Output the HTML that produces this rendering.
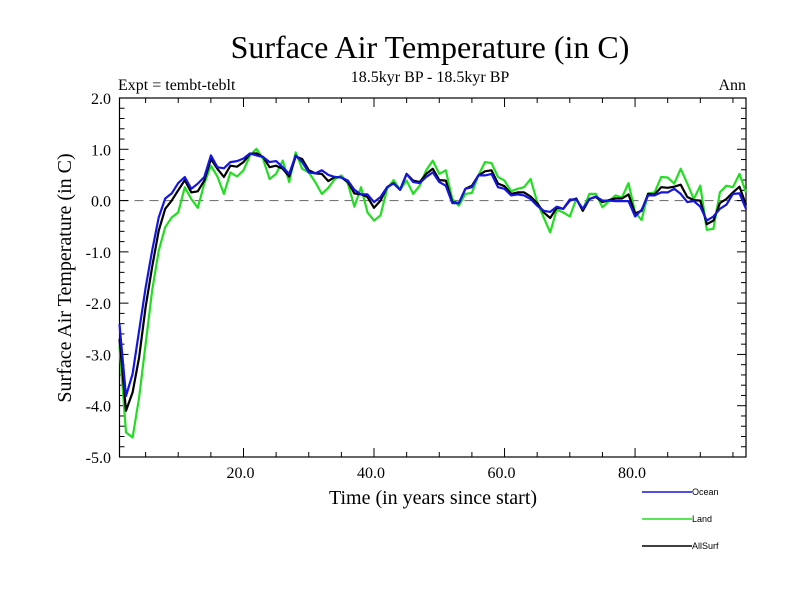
<!DOCTYPE html>
<html><head><meta charset="utf-8"><style>
body{margin:0;background:#fff}
svg{display:block}
.s{font-family:"Liberation Serif",serif;fill:#000}
.l{font-family:"Liberation Sans",sans-serif;font-size:9px;fill:#000}
</style></head><body>
<svg id="c" width="800" height="600" xmlns="http://www.w3.org/2000/svg">
<rect width="800" height="600" fill="#fff"/>
<text class="s" x="430" y="58" font-size="32" text-anchor="middle">Surface Air Temperature (in C)</text>
<text class="s" x="430" y="82" font-size="16" text-anchor="middle">18.5kyr BP - 18.5kyr BP</text>
<text class="s" x="118" y="90" font-size="16">Expt = tembt-teblt</text>
<text class="s" x="746" y="90" font-size="16" text-anchor="end">Ann</text>
<text class="s" x="433" y="504" font-size="20" text-anchor="middle">Time (in years since start)</text>
<text class="s" x="0" y="0" font-size="20" text-anchor="middle" transform="translate(71,278) rotate(-90)">Surface Air Temperature (in C)</text>
<g id="axes"></g>
<g id="marks"></g>
<g id="legend"></g>
</svg>
<script>
const years=[];for(let i=1;i<=97;i++)years.push(i);
const ocean=[-2.41,-3.81,-3.38,-2.54,-1.70,-0.98,-0.33,0.04,0.14,0.34,0.46,0.23,0.33,0.46,0.88,0.65,0.63,0.75,0.77,0.82,0.92,0.88,0.85,0.75,0.77,0.65,0.52,0.88,0.75,0.55,0.53,0.59,0.50,0.46,0.45,0.39,0.21,0.12,0.12,-0.03,0.07,0.26,0.33,0.21,0.52,0.36,0.34,0.46,0.55,0.36,0.29,-0.05,-0.05,0.23,0.26,0.49,0.49,0.52,0.26,0.23,0.10,0.12,0.10,0.03,-0.10,-0.20,-0.22,-0.12,-0.16,0.02,0.02,-0.16,0.03,0.08,0.00,0.00,-0.01,-0.01,-0.01,-0.31,-0.18,0.10,0.10,0.16,0.16,0.23,0.13,-0.03,-0.01,-0.12,-0.39,-0.31,-0.16,-0.08,0.13,0.14,-0.16];
const land=[-2.83,-4.52,-4.62,-3.84,-2.80,-1.76,-0.98,-0.52,-0.33,-0.23,0.26,0.03,-0.14,0.33,0.68,0.47,0.13,0.55,0.47,0.59,0.88,1.01,0.81,0.42,0.52,0.78,0.36,0.94,0.62,0.55,0.36,0.13,0.25,0.42,0.49,0.33,-0.12,0.26,-0.23,-0.39,-0.29,0.23,0.40,0.21,0.39,0.13,0.29,0.59,0.78,0.52,0.59,0.03,-0.10,0.13,0.15,0.49,0.75,0.73,0.46,0.39,0.18,0.23,0.26,0.42,-0.03,-0.33,-0.62,-0.18,-0.23,-0.31,0.03,-0.18,0.13,0.13,-0.13,-0.01,0.10,0.06,0.34,-0.23,-0.38,0.14,0.16,0.46,0.45,0.33,0.62,0.33,0.03,0.29,-0.57,-0.55,0.16,0.29,0.26,0.52,0.16];
const allsurf=[-2.70,-4.10,-3.74,-3.06,-2.08,-1.30,-0.59,-0.16,0.00,0.20,0.40,0.16,0.18,0.39,0.81,0.62,0.46,0.68,0.66,0.75,0.91,0.92,0.85,0.65,0.68,0.62,0.47,0.86,0.81,0.59,0.53,0.52,0.38,0.46,0.45,0.36,0.14,0.12,0.07,-0.14,0.00,0.26,0.34,0.21,0.52,0.39,0.36,0.52,0.62,0.40,0.39,-0.03,-0.05,0.23,0.29,0.49,0.57,0.59,0.33,0.28,0.13,0.16,0.16,0.08,-0.05,-0.23,-0.34,-0.14,-0.16,0.00,0.04,-0.20,0.03,0.07,-0.03,0.01,0.04,0.04,0.12,-0.25,-0.20,0.13,0.12,0.26,0.25,0.27,0.31,0.07,0.01,0.00,-0.46,-0.39,-0.05,0.03,0.16,0.27,-0.08];
const yTicks=[-5,-4,-3,-2,-1,0,1,2];
const yTickLabels=["-5.0","-4.0","-3.0","-2.0","-1.0","0.0","1.0","2.0"];
const xTicks=[20,40,60,80];
const xTickLabels=["20.0","40.0","60.0","80.0"];
const L=119.5,R=746,T=98,B=457;
const xs=v=>L+(v-1)*(R-L)/96;
const ys=v=>T+(2-v)*(B-T)/7;
const NS="http://www.w3.org/2000/svg";
function mk(tag,attrs,parent){const e=document.createElementNS(NS,tag);for(const k in attrs)e.setAttribute(k,attrs[k]);parent.appendChild(e);return e;}
const ax=document.getElementById('axes');
const frame=mk('rect',{x:L,y:T,width:R-L,height:B-T,fill:'none',stroke:'#000','stroke-width':1.2},ax);


const zl=mk('line',{x1:L,x2:R,y1:ys(0),y2:ys(0),stroke:'#777','stroke-width':1.2,'stroke-dasharray':'9,6'},ax);


for(let k=0;k<=35;k++){const v=-5+k*0.2;const y=ys(v);const major=(k%5===0);const len=major?9:5;
 mk('line',{x1:L,x2:L+len,y1:y,y2:y,stroke:'#000','stroke-width':1},ax);
 mk('line',{x1:R,x2:R-len,y1:y,y2:y,stroke:'#000','stroke-width':1},ax);}
for(let yr=5;yr<=95;yr+=5){const x=xs(yr);const major=(yr%20===0);const len=major?9:5;
 mk('line',{x1:x,x2:x,y1:B,y2:B-len,stroke:'#000','stroke-width':1},ax);
 mk('line',{x1:x,x2:x,y1:T,y2:T+len,stroke:'#000','stroke-width':1},ax);}
yTicks.forEach((v,i)=>{const t=mk('text',{x:111,y:ys(v)+6,'font-size':16,'text-anchor':'end',class:'s'},ax);t.textContent=yTickLabels[i];
 
 });
xTicks.forEach((v,i)=>{const t=mk('text',{x:xs(v)-3,y:478,'font-size':16,'text-anchor':'middle',class:'s'},ax);t.textContent=xTickLabels[i];
 
 });
const mg=document.getElementById('marks');
function line(data,color,name){const p=data.map((v,i)=>xs(years[i]).toFixed(1)+','+ys(v).toFixed(1)).join(' ');
 const e=mk('polyline',{points:p,fill:'none',stroke:color,'stroke-width':2.2,'stroke-linejoin':'round'},mg);
 
 }
line(land,'#22dd22','land-line');
line(allsurf,'#000','allsurf-line');
line(ocean,'#1515e0','ocean-line');
const lg=document.getElementById('legend');
[['Ocean','#1515e0',492],['Land','#22dd22',519],['AllSurf','#000',546]].forEach(d=>{
 const g=mk('g',{},lg);
 
 
 mk('line',{x1:642,x2:692,y1:d[2],y2:d[2],stroke:d[1],'stroke-width':1.5},g);
 const t=mk('text',{x:692,y:d[2]+3,class:'l'},g);t.textContent=d[0];});
</script>
</body></html>
